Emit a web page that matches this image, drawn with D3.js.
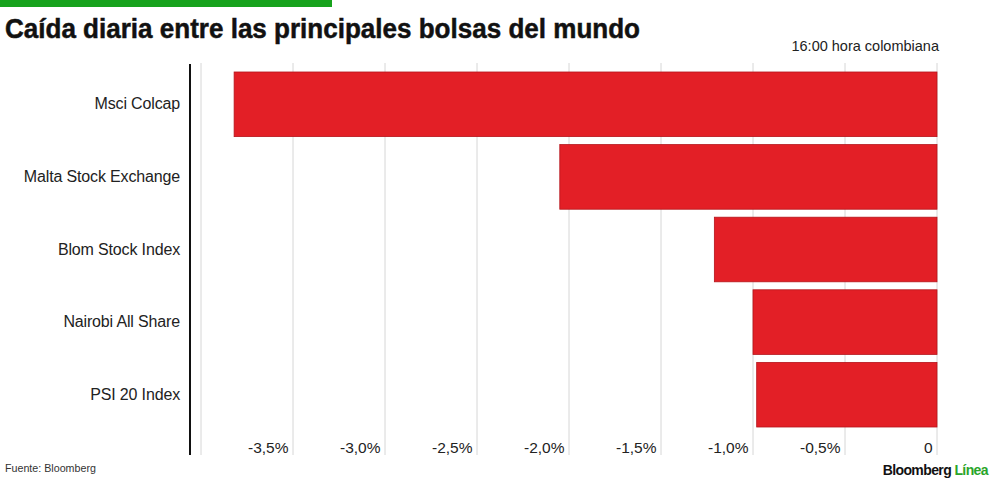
<!DOCTYPE html>
<html>
<head>
<meta charset="utf-8">
<script src="https://cdn.jsdelivr.net/npm/d3@7"></script>
<style>
  html, body { margin: 0; padding: 0; background: #fff; }
  svg { display: block; font-family: "Liberation Sans", Arial, sans-serif; }
</style>
</head>
<body>
<svg id="chart" width="1000" height="481"></svg>
<script>
const categories = ["Msci Colcap", "Malta Stock Exchange", "Blom Stock Index", "Nairobi All Share", "PSI 20 Index"];
const values = [-3.82, -2.05, -1.21, -1.00, -0.98];
const tickValues = [-3.5, -3.0, -2.5, -2.0, -1.5, -1.0, -0.5, 0];
const gridValues = [-4.0, -3.5, -3.0, -2.5, -2.0, -1.5, -1.0, -0.5, 0];

const svg = d3.select("#chart");

// top green bar
svg.append("rect").attr("x", 0).attr("y", 0).attr("width", 332).attr("height", 7).attr("fill", "#17a21c");

// title
svg.append("text")
  .attr("x", 5).attr("y", 38)
  .attr("font-size", 27).attr("font-weight", "bold").attr("fill", "#111")
  .attr("stroke", "#111").attr("stroke-width", 0.5)
  .attr("textLength", 635).attr("lengthAdjust", "spacingAndGlyphs")
  .text("Caída diaria entre las principales bolsas del mundo");

svg.append("text")
  .attr("x", 939).attr("y", 51)
  .attr("font-size", 14.5).attr("fill", "#222").attr("text-anchor", "end")
  .text("16:00 hora colombiana");

const x = d3.scaleLinear().domain([-4, 0]).range([201, 937]);
const y = d3.scaleBand().domain(categories).range([68, 431]).paddingInner(0.11).paddingOuter(0.055);

// gridlines
svg.append("g").selectAll("line").data(gridValues).join("line")
  .attr("x1", d => x(d)).attr("x2", d => x(d))
  .attr("y1", 63).attr("y2", 455)
  .attr("stroke", "#d6d6d6").attr("stroke-width", 1);

// bars
svg.append("g").selectAll("rect").data(values).join("rect")
  .attr("x", d => x(d))
  .attr("y", (d, i) => y(categories[i]))
  .attr("width", d => x(0) - x(d))
  .attr("height", y.bandwidth())
  .attr("fill", "#e31f26")
  .attr("stroke", "#b5151b").attr("stroke-width", 0.8);

// x-axis tick labels
const xAxis = d3.axisBottom(x).tickValues(tickValues).tickSize(0)
  .tickFormat(d => d === 0 ? "0" : d3.format(".1f")(d).replace("−", "-").replace(".", ",") + "%");
const gx = svg.append("g").attr("transform", "translate(0,440)").call(xAxis);
gx.select(".domain").remove();
gx.selectAll("text")
  .attr("font-size", 15.5).attr("fill", "#222")
  .attr("font-family", "Liberation Sans, Arial, sans-serif")
  .attr("text-anchor", "end").attr("dx", -5).attr("dy", 0).attr("y", 13);

// y axis labels
const yAxis = d3.axisLeft(y).tickSize(0).tickPadding(0);
const gy = svg.append("g").attr("transform", "translate(180,0)").call(yAxis);
gy.select(".domain").remove();
gy.selectAll("text")
  .attr("font-size", 16).attr("fill", "#222")
  .attr("font-family", "Liberation Sans, Arial, sans-serif")
  .attr("letter-spacing", "-0.15");

// black axis line
svg.append("line").attr("x1", 190).attr("x2", 190).attr("y1", 64).attr("y2", 455)
  .attr("stroke", "#111").attr("stroke-width", 2);

// source
svg.append("text").attr("x", 5).attr("y", 472)
  .attr("font-size", 10.7).attr("fill", "#333").text("Fuente: Bloomberg");

// logo
const logo = svg.append("text").attr("x", 988).attr("y", 475)
  .attr("font-size", 14).attr("font-weight", "bold").attr("text-anchor", "end")
  .attr("letter-spacing", "-0.6");
logo.append("tspan").attr("fill", "#111").text("Bloomberg ");
logo.append("tspan").attr("fill", "#2aa52a").text("Línea");
</script>
</body>
</html>
